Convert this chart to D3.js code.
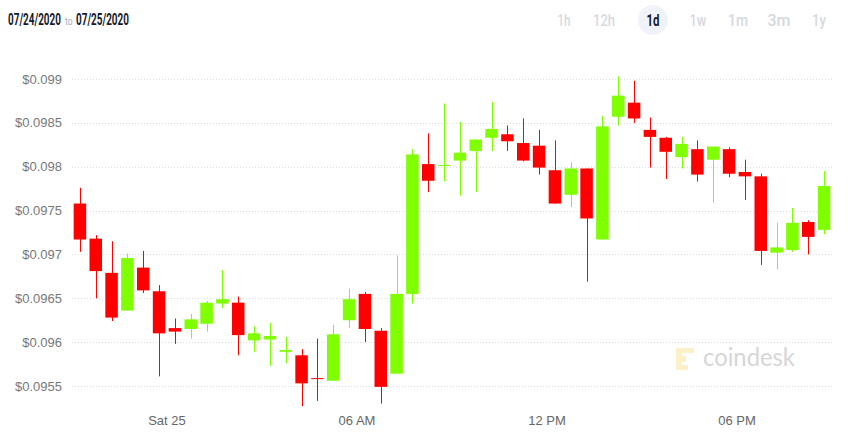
<!DOCTYPE html>
<html>
<head>
<meta charset="utf-8">
<script src="https://cdn.jsdelivr.net/npm/d3@7"></script>
<style>
  html, body { margin: 0; padding: 0; background: #fff; }
  svg { display: block; }
</style>
</head>
<body>
<svg id="chart" width="856" height="441"></svg>
<script>
// ---------- data ----------
const times = [
  "2020-07-24T21:00","2020-07-24T21:30","2020-07-24T22:00","2020-07-24T22:30",
  "2020-07-24T23:00","2020-07-24T23:30","2020-07-25T00:00","2020-07-25T00:30",
  "2020-07-25T01:00","2020-07-25T01:30","2020-07-25T02:00","2020-07-25T02:30",
  "2020-07-25T03:00","2020-07-25T03:30","2020-07-25T04:00","2020-07-25T04:30",
  "2020-07-25T05:00","2020-07-25T05:30","2020-07-25T06:00","2020-07-25T06:30",
  "2020-07-25T07:00","2020-07-25T07:30","2020-07-25T08:00","2020-07-25T08:30",
  "2020-07-25T09:00","2020-07-25T09:30","2020-07-25T10:00","2020-07-25T10:30",
  "2020-07-25T11:00","2020-07-25T11:30","2020-07-25T12:00","2020-07-25T12:30",
  "2020-07-25T13:00","2020-07-25T13:30","2020-07-25T14:00","2020-07-25T14:30",
  "2020-07-25T15:00","2020-07-25T15:30","2020-07-25T16:00","2020-07-25T16:30",
  "2020-07-25T17:00","2020-07-25T17:30","2020-07-25T18:00","2020-07-25T18:30",
  "2020-07-25T19:00","2020-07-25T19:30","2020-07-25T20:00","2020-07-25T20:30"
];
const openValues = [
  0.09758,0.09718,0.09679,0.09636,0.09685,0.09658,0.09616,0.09615,
  0.09621,0.09644,0.09645,0.09602,0.09603,0.09589,0.09585,0.09559,
  0.09556,0.09625,0.09655,0.09613,0.09564,0.09655,0.09803,0.09802,
  0.09807,0.09818,0.09833,0.09837,0.09827,0.09824,0.09796,0.09768,
  0.09798,0.09717,0.09857,0.09873,0.09842,0.09833,0.09811,0.09820,
  0.09808,0.09820,0.09794,0.09789,0.09702,0.09705,0.09737,0.09728
];
const highValues = [
  0.09776,0.09722,0.09715,0.09701,0.09704,0.09665,0.09627,0.09632,
  0.09647,0.09682,0.09652,0.09618,0.09622,0.09606,0.09592,0.09604,
  0.09620,0.09661,0.09657,0.09616,0.09699,0.09820,0.09838,0.09872,
  0.09851,0.09831,0.09874,0.09847,0.09855,0.09842,0.09830,0.09805,
  0.09798,0.09858,0.09903,0.09898,0.09856,0.09834,0.09834,0.09830,
  0.09823,0.09822,0.09808,0.09792,0.09736,0.09753,0.09739,0.09795
];
const lowValues = [
  0.09703,0.09650,0.09624,0.09636,0.09656,0.09561,0.09598,0.09604,
  0.09612,0.09639,0.09585,0.09589,0.09573,0.09576,0.09527,0.09533,
  0.09556,0.09616,0.09600,0.09530,0.09564,0.09644,0.09771,0.09783,
  0.09767,0.09771,0.09818,0.09818,0.09806,0.09791,0.09758,0.09754,
  0.09669,0.09717,0.09847,0.09850,0.09799,0.09786,0.09798,0.09783,
  0.09759,0.09788,0.09762,0.09688,0.09683,0.09703,0.09700,0.09723
];
const closeValues = [
  0.09717,0.09681,0.09628,0.09696,0.09659,0.09610,0.09612,0.09626,
  0.09645,0.09649,0.09608,0.09610,0.09607,0.09591,0.09553,0.09558,
  0.09609,0.09649,0.09615,0.09549,0.09655,0.09814,0.09784,0.09802,
  0.09816,0.09831,0.09843,0.09829,0.09807,0.09799,0.09758,0.09798,
  0.09741,0.09846,0.09881,0.09855,0.09834,0.09817,0.09826,0.09791,
  0.09823,0.09792,0.09789,0.09704,0.09708,0.09736,0.09720,0.09778
];
const yTickValues = [0.0955, 0.096, 0.0965, 0.097, 0.0975, 0.098, 0.0985, 0.099];
const yTickLabels = ["$0.0955","$0.096","$0.0965","$0.097","$0.0975","$0.098","$0.0985","$0.099"];
const xTickTimes = ["2020-07-25T00:00","2020-07-25T06:00","2020-07-25T12:00","2020-07-25T18:00"];
const xTickLabels = ["Sat 25","06 AM","12 PM","06 PM"];
const rangeButtons = ["1h","12h","1d","1w","1m","3m","1y"];
const activeButton = "1d";
const dateFrom = "07/24/2020", dateTo = "07/25/2020";

// ---------- layout ----------
const parse = d3.timeParse("%Y-%m-%dT%H:%M");
const svg = d3.select("#chart");
const plotLeft = 72, plotRight = 832;
const UP = "#7fff00", DOWN = "#ff0000";

const x = d3.scaleTime()
  .domain([parse("2020-07-24T21:00"), parse("2020-07-25T21:00")])
  .range([plotLeft, plotRight]);
const y = d3.scaleLinear().domain([0.0955, 0.099]).range([386, 79]);

const candles = times.map((t, i) => ({
  start: parse(t), o: openValues[i], h: highValues[i], l: lowValues[i], c: closeValues[i]
}));
const step = x(d3.timeMinute.offset(candles[0].start, 30)) - x(candles[0].start);
const bodyW = step * 0.79;
const center = d => x(d3.timeMinute.offset(d.start, 15));

// condensed text helper: draw text at origin, then scale horizontally to a target width
function condensedText(parent, str, left, baseline, width, attrs, anchorMiddle) {
  const g = parent.append("g");
  const t = g.append("text").attr("x", 0).attr("y", 0).text(str);
  Object.entries(attrs).forEach(([k, v]) => t.attr(k, v));
  const natural = t.node().getComputedTextLength();
  const s = width / natural;
  const x0 = anchorMiddle ? left - width / 2 : left;
  g.attr("transform", `translate(${x0},${baseline}) scale(${s},1)`);
  return g;
}

// header
const header = svg.append("g");
const dateAttrs = {"font-family": "Roboto, 'Liberation Sans', sans-serif", "font-weight": 700,
  "font-size": 16, "fill": "#161a2c"};
condensedText(header, dateFrom, 8, 25, 53, dateAttrs);
condensedText(header, "to", 65, 25, 7.5, {"font-family": "Roboto, sans-serif", "font-size": 11, "fill": "#a9adb8"});
condensedText(header, dateTo, 76, 25, 53, dateAttrs);

const btnX = [564, 604, 653, 698, 738, 779, 819];
const btnW = [13, 22, 13, 17, 20, 23, 14];
rangeButtons.forEach((b, i) => {
  const active = b === activeButton;
  if (active) {
    header.append("circle").attr("cx", btnX[i]).attr("cy", 20).attr("r", 15).attr("fill", "#f1f3fa");
  }
  condensedText(header, b, btnX[i], 26, btnW[i], {
    "font-family": "Roboto, 'Liberation Sans', sans-serif",
    "font-weight": active ? 700 : 500, "font-size": 16,
    "fill": active ? "#161a2c" : "#d5d8df"}, true);
});

// grid + y labels
const grid = svg.append("g");
yTickValues.forEach((v, i) => {
  grid.append("line")
    .attr("x1", plotLeft).attr("x2", plotRight)
    .attr("y1", Math.round(y(v)) + 0.5).attr("y2", Math.round(y(v)) + 0.5)
    .attr("stroke", "#dcdcdc").attr("stroke-dasharray", "1,2");
  grid.append("text")
    .attr("x", 62).attr("y", y(v)).attr("dy", "0.35em")
    .attr("text-anchor", "end")
    .attr("font-family", "'Liberation Sans', Arial, sans-serif")
    .attr("font-size", 13).attr("fill", "#777")
    .text(yTickLabels[i]);
});

// watermark
const wm = svg.append("g");
wm.append("path")
  .attr("d", "M676,348 H694 V353 H682 V356 H686 V362 H682 V365 H688 V370 H676 Z")
  .attr("fill", "#fbf0c8");
condensedText(wm, "coindesk", 703, 366, 92, {"font-family": "Lato, 'Open Sans', sans-serif",
  "font-size": 25, "fill": "#d6d6d6"});

// x labels
xTickTimes.forEach((t, i) => {
  svg.append("text")
    .attr("x", x(parse(t))).attr("y", 425)
    .attr("text-anchor", "middle")
    .attr("font-family", "'Liberation Sans', Arial, sans-serif")
    .attr("font-size", 13).attr("fill", "#666")
    .text(xTickLabels[i]);
});

// candles
const cg = svg.append("g").selectAll("g").data(candles).join("g");
cg.append("line")
  .attr("x1", d => Math.round(center(d)) + 0.5).attr("x2", d => Math.round(center(d)) + 0.5)
  .attr("y1", d => y(d.h)).attr("y2", d => y(d.l))
  .attr("stroke", d => d.c >= d.o ? UP : DOWN).attr("stroke-width", 1);
cg.append("rect")
  .attr("x", d => center(d) - bodyW / 2).attr("width", bodyW)
  .attr("y", d => y(Math.max(d.o, d.c)))
  .attr("height", d => Math.max(Math.abs(y(d.o) - y(d.c)), 1))
  .attr("fill", d => d.c >= d.o ? UP : DOWN);
</script>
</body>
</html>
